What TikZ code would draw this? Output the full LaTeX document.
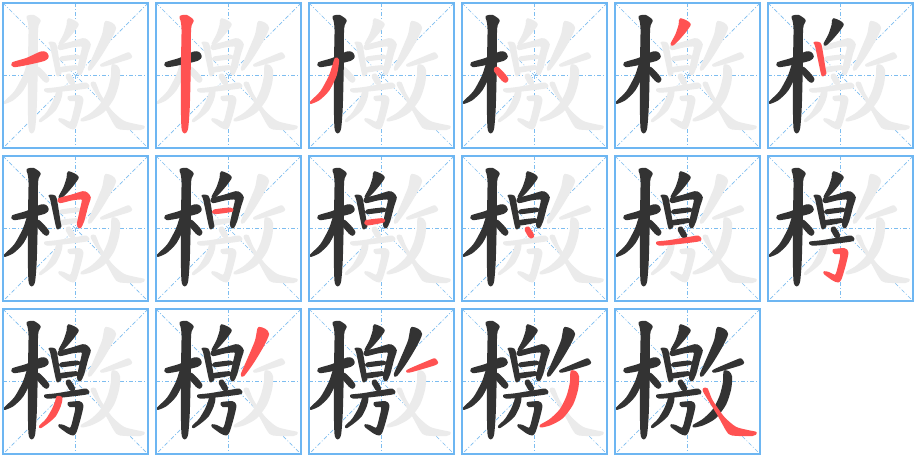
\documentclass[tikz,border=0pt]{standalone}
\definecolor{gridblue}{HTML}{6DB6F2}
\definecolor{guideblue}{HTML}{7DBDF0}
\definecolor{inkdark}{HTML}{333333}
\definecolor{inkred}{HTML}{FF5252}
\definecolor{inkgray}{HTML}{EBEBEB}
\tikzset{
  cellframe/.style={draw=gridblue, line width=2pt},
  guideline/.style={draw=guideblue, line width=0.7pt, dash pattern=on 4pt off 2pt on 1pt off 2pt},
  strokeshape/.style={smooth cycle, tension=0.45},
  ink/.style={fill=#1, draw=#1, line width=1.6pt, line join=round}
}
\newcommand\hzstroke[2]{\ifcase#1\or
\path[ink=#2] plot[strokeshape] coordinates {(38,189) (80,176) (122,157) (137,158) (144,169) (134,180) (80,193) (42,199)};\or
\path[ink=#2] plot[strokeshape] coordinates {(82,50) (100,47) (120,62) (112,85) (111,200) (108,320) (103,385) (95,398) (88,385) (86,320) (86,200) (88,90) (85,62)};\or
\path[ink=#2] plot[strokeshape] coordinates {(88,176) (97,180) (90,225) (68,270) (40,298) (16,309) (15,305) (45,275) (70,230) (82,195)};\or
\path[ink=#2] plot[strokeshape] coordinates {(108,205) (116,203) (138,225) (146,238) (140,246) (130,240) (108,214)};\or
\path[ink=#2] plot[strokeshape] coordinates {(206,57) (222,63) (234,73) (222,92) (200,118) (183,134) (178,131) (192,105) (202,75) (203,62)};\or
\path[ink=#2] plot[strokeshape] coordinates {(148,128) (160,128) (168,138) (180,210) (182,220) (175,226) (170,220) (153,140)};\or
\path[ink=#2] plot[strokeshape] coordinates {(176,138) (215,127) (248,117) (260,120) (270,133) (262,160) (250,205) (240,224) (233,214) (242,170) (248,142) (242,137) (215,140) (180,148)};\or
\path[ink=#2] plot[strokeshape] coordinates {(183,172) (232,166) (237,174) (185,181)};\or
\path[ink=#2] plot[strokeshape] coordinates {(180,204) (228,198) (233,206) (183,215)};\or
\path[ink=#2] plot[strokeshape] coordinates {(200,226) (208,223) (220,240) (223,250) (216,254) (210,250) (200,232)};\or
\path[ink=#2] plot[strokeshape] coordinates {(135,268) (170,264) (243,252) (258,250) (266,258) (255,264) (170,274) (140,275)};\or
\path[ink=#2] plot[strokeshape] coordinates {(205,291) (238,288) (248,299) (240,336) (228,376) (220,386) (205,381) (180,363) (178,357) (190,359) (212,367) (222,336) (228,303) (210,301)};\or
\path[ink=#2] plot[strokeshape] coordinates {(172,272) (185,275) (180,300) (165,330) (140,352) (122,364) (120,360) (140,340) (158,310) (168,285)};\or
\path[ink=#2] plot[strokeshape] coordinates {(318,65) (335,70) (346,84) (330,120) (300,170) (272,208) (266,204) (285,160) (308,105) (314,75)};\or
\path[ink=#2] plot[strokeshape] coordinates {(307,192) (377,162) (387,160) (394,170) (382,177) (312,197)};\or
\path[ink=#2] plot[strokeshape] coordinates {(338,195) (350,198) (358,212) (355,250) (340,295) (310,335) (275,355) (248,362) (245,358) (275,340) (305,310) (325,270) (335,230) (336,205)};\or
\path[ink=#2] plot[strokeshape] coordinates {(275,249) (285,249) (300,284) (335,334) (370,364) (405,374) (432,380) (420,388) (360,386) (345,374) (320,329) (292,284) (276,257)};\fi}
\begin{document}
\begin{tikzpicture}[x=1pt,y=-1pt]
\useasboundingbox[fill=white] (0,0) rectangle (915,456);
\foreach \k in {1,...,17}{
  \pgfmathtruncatemacro\col{mod(\k-1,6)}
  \pgfmathtruncatemacro\row{(\k-1)/6}
  \begin{scope}[shift={(2+153*\col,2+153*\row)}]
    \coordinate (tl) at (1,1);
    \coordinate (br) at (146,146);
    \coordinate (tr) at (146,1);
    \coordinate (bl) at (1,146);
    \coordinate (tm) at (73.5,1);
    \coordinate (bm) at (73.5,146);
    \coordinate (lm) at (1,73.5);
    \coordinate (rm) at (146,73.5);
    \draw[guideline] (tl) -- (br);
    \draw[guideline] (tr) -- (bl);
    \draw[guideline] (tm) -- (bm);
    \draw[guideline] (lm) -- (rm);
    \begin{scope}[scale=1/3,shift={(-6,-6)}]
      \foreach \s in {1,...,17}{
        \ifnum\s>\k \hzstroke{\s}{inkgray}\fi
      }
      \foreach \s in {1,...,17}{
        \ifnum\s<\k \hzstroke{\s}{inkdark}\fi
      }
      \hzstroke{\k}{inkred}
    \end{scope}
    \draw[cellframe] (tl) rectangle (br);
  \end{scope}
}
\end{tikzpicture}
\end{document}
